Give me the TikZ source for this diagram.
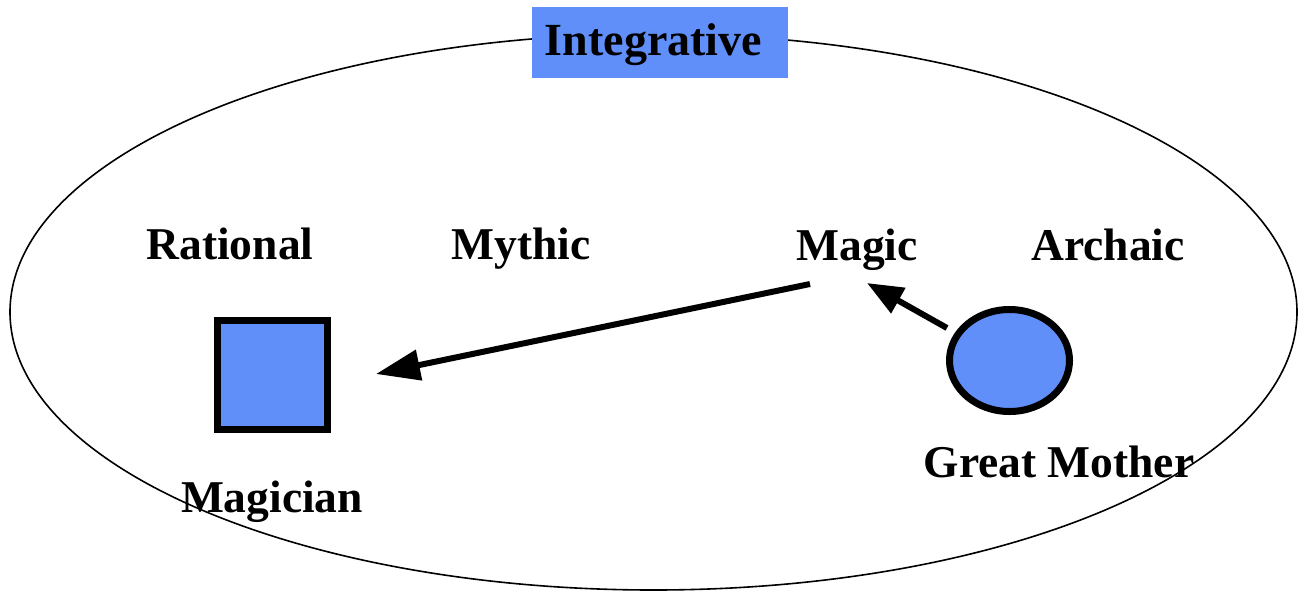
\documentclass[tikz,border=0pt]{standalone}
\usepackage{fontspec}
\setmainfont{Liberation Serif}
\usetikzlibrary{arrows.meta,shapes.geometric}
\definecolor{boxblue}{RGB}{97,143,249}

\begin{document}
\begin{tikzpicture}[x=1pt,y=-1pt,
      label node/.style={anchor=base,inner sep=0pt,font=\fontsize{45.5}{50}\selectfont\bfseries},
      title node/.style={anchor=base,inner sep=0pt,font=\fontsize{46}{54}\selectfont\bfseries},
      square node/.style={draw,line width=7pt,fill=boxblue,minimum width=110pt,minimum height=109pt,inner sep=0pt},
      round node/.style={draw,ellipse,line width=7pt,fill=boxblue,minimum width=120pt,minimum height=102pt,inner sep=0pt},
      big arrow/.style={line width=6pt,-{Triangle[length=44pt,width=30pt]}},
      small arrow/.style={line width=6pt,-{Triangle[length=36pt,width=28pt]}}]

      \useasboundingbox (0,0) rectangle (1301,590);

      % outer level
      \draw[line width=1.6pt] (653.5,312) ellipse [x radius=643.5pt,y radius=278pt];
      \node[fill=boxblue,minimum width=256pt,minimum height=71pt,inner sep=0pt] (intbox) at (660,42.5) {};
      \node[title node] (integ) at (653.5,55) {Integrative};

      % stages
      \node[label node] (rational) at (230,259) {Rational};
      \node[label node] (mythic) at (521,259) {Mythic};
      \node[label node] (magic) at (857,260) {Magic};
      \node[label node] (archaic) at (1108,260) {Archaic};

      % figures
      \node[square node] (sq) at (272.5,375) {};
      \node[round node] (gm) at (1009.5,360.5) {};
      \node[label node] (magician) at (272,512) {Magician};
      \node[label node] (mother) at (1059,477) {Great Mother};

      \coordinate (a1s) at (810,284);
      \coordinate (a1e) at (376,374);
      \coordinate (a2s) at (947,328);
      \coordinate (a2e) at (867,283);
      \draw[big arrow] (a1s) -- (a1e);
      \draw[small arrow] (a2s) -- (a2e);
    \end{tikzpicture}
\end{document}
